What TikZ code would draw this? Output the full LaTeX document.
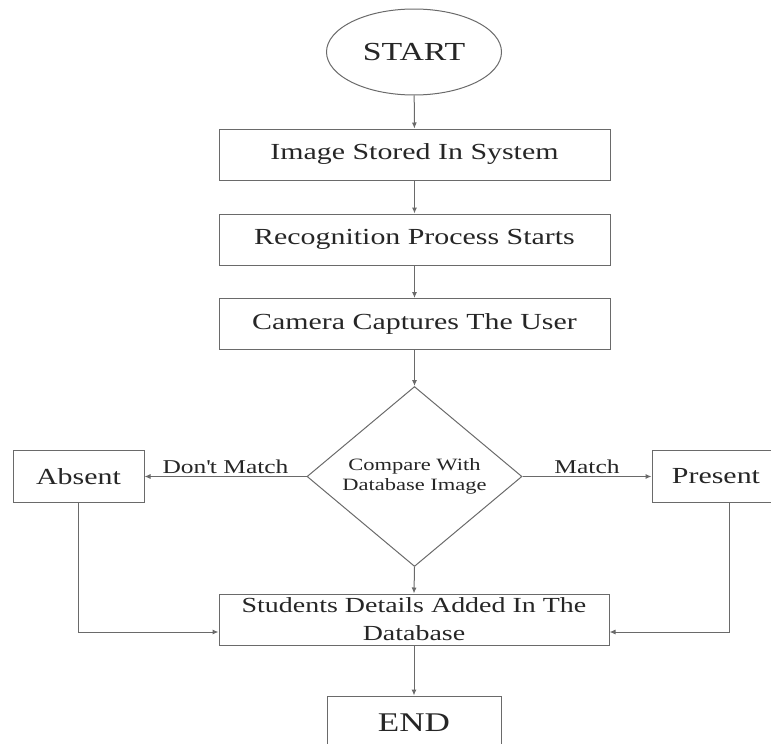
\documentclass[tikz,border=0pt]{standalone}
\usepackage{fontspec}
\setmainfont{Liberation Serif}[FakeStretch=1.3]
\usetikzlibrary{shapes.geometric,arrows.meta}
\definecolor{linec}{HTML}{6A6A6A}
\definecolor{textc}{HTML}{262626}
\tikzset{
  base/.style={draw=linec, line width=1pt, text=textc, inner sep=0pt, align=center},
  procbox/.style={base, rectangle, minimum width=391pt, minimum height=51pt, font=\fontsize{23}{28}\selectfont},
  sidebox/.style={base, rectangle, minimum height=52pt, font=\fontsize{23}{28}\selectfont},
  termell/.style={base, ellipse, minimum width=175pt, minimum height=86pt, font=\fontsize{26}{30}\selectfont},
  decide/.style={base, diamond, minimum width=215pt, minimum height=167pt, font=\fontsize{17.3}{20}\selectfont},
  conn/.style={draw=linec, line width=1pt, -{Latex[length=6pt,width=5pt]}},
  lbl/.style={text=textc, font=\fontsize{19.6}{22}\selectfont, inner sep=2pt}
}
\begin{document}
\begin{tikzpicture}[x=1pt, y=-1pt]
\useasboundingbox (0,0) rectangle (771,744);
\node[termell] (start) at (414,52) {START};
\node[procbox] (b1) at (414.5,154.5) {Image Stored In System};
\node[procbox] (b2) at (414.5,239.5) {Recognition Process Starts};
\node[procbox] (b3) at (414.5,324) {Camera Captures The User};
\node[decide] (dia) at (414.5,476.5) {Compare With\\Database Image};
\node[sidebox, minimum width=131pt] (absent) at (78.5,476.5) {Absent};
\node[sidebox, minimum width=128pt] (present) at (716,476.5) {Present};
\node[procbox, minimum width=390pt, font=\fontsize{21.5}{28}\selectfont] (stud) at (414,619.5) {Students Details Added In The\\Database};
\node[procbox, minimum width=174pt, minimum height=54pt, font=\fontsize{27}{30}\selectfont] (end) at (414,723) {END};
\draw[conn] (start) -- (b1);
\draw[conn] (b1) -- (b2);
\draw[conn] (b2) -- (b3);
\draw[conn] (b3) -- (dia);
\draw[conn] (dia.west) -- node[lbl, above] {Don\textquotesingle t Match} (absent.east);
\draw[conn] (dia.east) -- node[lbl, above] {Match} (present.west);
\draw[conn] (dia.south) -- (stud.north);
\draw[conn] (stud) -- (end);
\draw[conn] (absent.south) |- ([yshift=-12.5pt]stud.west);
\draw[conn] ([xshift=13pt]present.south) |- ([yshift=-12.5pt]stud.east);
\end{tikzpicture}
\end{document}
